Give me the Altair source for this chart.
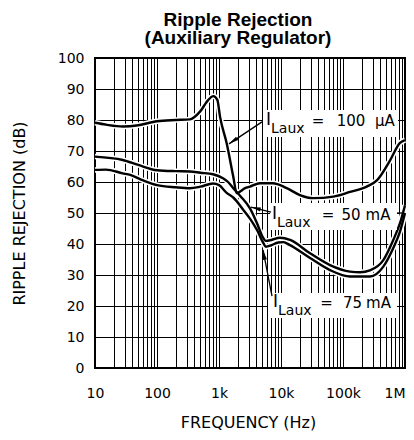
import altair as alt
import pandas as pd

# ---------------- curve data (frequency in Hz, ripple rejection in dB) ----------------
f_100uA = [10, 15, 28, 50, 100, 200, 340, 494, 673, 809, 940, 1040, 1330, 1700, 1930,
           2180, 2630, 3160, 4580, 7400, 12400, 20200, 33000, 69800, 130000, 241000,
           355000, 575000, 830000, 1000000]
db_100uA = [79.1, 78.5, 77.9, 78.3, 79.6, 80.0, 80.2, 82.7, 86.5, 87.7, 86.5, 81.0, 72.5,
            61.7, 56.4, 56.9, 58.0, 58.5, 59.6, 59.6, 58.0, 55.8, 54.8, 55.3, 56.8, 58.5,
            60.6, 67.0, 72.6, 73.5]

f_50mA = [10, 28, 50, 100, 200, 340, 500, 800, 1160, 1400, 1700, 2200, 3160, 4100, 5000,
          5700, 7000, 9600, 14000, 29400, 61600, 130000, 190000, 272000, 447000, 647000,
          830000, 1000000]
db_50mA = [68.2, 67.1, 65.5, 63.8, 63.5, 63.4, 63.0, 62.5, 61.2, 60.0, 58.0, 55.5, 51.5,
           46.7, 42.5, 41.0, 41.3, 42.0, 41.3, 37.0, 33.2, 31.1, 30.9, 31.5, 34.8, 41.3,
           46.7, 52.5]

f_75mA = [10, 15, 28, 37, 60, 100, 200, 340, 500, 800, 1000, 1330, 1700, 2470, 3200, 4100,
          5200, 5700, 7000, 9000, 11000, 13700, 29400, 61600, 130000, 272000, 447000,
          647000, 830000, 1000000]
db_75mA = [63.9, 64.0, 62.8, 62.3, 60.5, 59.0, 58.3, 58.0, 58.5, 59.5, 59.0, 56.5, 55.0,
           51.0, 48.0, 44.5, 40.3, 39.1, 39.6, 40.5, 40.6, 39.7, 35.5, 31.6, 29.5, 29.5,
           32.7, 38.7, 44.0, 50.0]

# ---------------- axes ----------------
x_decades = [10, 100, 1000, 10000, 100000, 1000000]
x_tick_labels = ["10", "100", "1k", "10k", "100k", "1M"]
x_minor_multipliers = [1, 2, 3, 4, 5, 6, 7, 8, 9]
y_tick_values = [0, 10, 20, 30, 40, 50, 60, 70, 80, 90, 100]

# ---------------- annotations ----------------
ann_left_text = ["I", "Laux", "I", "Laux", "I", "Laux"]
ann_left_f = [5730, 6900, 7160, 8600, 7430, 8950]
ann_left_db = [78.4, 75.8, 48.1, 45.5, 19.7, 17.1]
ann_left_size = [17, 14, 17, 14, 17, 14]

ann_mid_text = ["=", "100", "\u03bcA", "=", "50", "mA", "=", "75", "mA"]
ann_mid_f = [39500, 134600, 475000, 57300, 134600, 367000, 54200, 142000, 374000]
ann_mid_db = [78.1, 78.1, 78.1, 47.7, 47.7, 47.7, 19.35, 19.35, 19.35]

box_f1 = [5130, 6650, 6170]
box_f2 = [771000, 743000, 743000]
box_db1 = [74.5, 44.5, 16.1]
box_db2 = [83.2, 53.2, 24.2]

arrow_f_tail = [4940, 6900, 7160, 743000]
arrow_db_tail = [79.4, 50.3, 23.2, 50.0]
arrow_f_tip = [1450, 3280, 5130, 964000]
arrow_db_tip = [72.3, 51.9, 38.1, 50.0]

head_f = [1450, 3280, 5130]
head_db = [72.3, 51.9, 38.1]
head_angle = [236, 284, 349]

# ---------------- tables ----------------
curves = pd.concat([
    pd.DataFrame({"f": f_100uA, "db": db_100uA, "s": "100uA"}),
    pd.DataFrame({"f": f_50mA, "db": db_50mA, "s": "50mA"}),
    pd.DataFrame({"f": f_75mA, "db": db_75mA, "s": "75mA"}),
])
left_df = pd.DataFrame({"t": ann_left_text, "f": ann_left_f, "db": ann_left_db,
                        "size": ann_left_size})
mid_df = pd.DataFrame({"t": ann_mid_text, "f": ann_mid_f, "db": ann_mid_db})
box_df = pd.DataFrame({"f": box_f1, "f2": box_f2, "db": box_db1, "db2": box_db2})
arrow_df = pd.DataFrame({"f": arrow_f_tail, "f2": arrow_f_tip,
                         "db": arrow_db_tail, "db2": arrow_db_tip})
head_df = pd.DataFrame({"f": head_f, "db": head_db, "a": head_angle})

grid_x = [m * d for d in x_decades[:-1] for m in x_minor_multipliers] + [x_decades[-1]]
label_expr = " : ".join(
    f"datum.value == {v} ? '{l}'" for v, l in zip(x_decades, x_tick_labels)
) + " : ''"

x_scale = alt.Scale(type="log", domain=[10, 1000000], nice=False)
y_scale = alt.Scale(domain=[0, 100], nice=False)

x_axis = alt.Axis(
    values=grid_x, labelExpr=label_expr, labelOverlap=False,
    labelAlign={"condition": {"test": "datum.value >= 1000000", "value": "right"},
                "value": "center"},
    labelPadding=18, title="FREQUENCY (Hz)", titleX=153, titleY=59,
    titleBaseline="alphabetic", titleAlign="center",
)
y_axis = alt.Axis(
    values=y_tick_values, labelPadding=11, title="RIPPLE REJECTION (dB)",
    titleX=-76, titleY=155, titleAngle=270, titleAlign="center", titleBaseline="middle",
)


def X(field="f"):
    return alt.X(f"{field}:Q", scale=x_scale, axis=x_axis)


def Y(field="db"):
    return alt.Y(f"{field}:Q", scale=y_scale, axis=y_axis)


casing = alt.Chart(curves).mark_line(
    color="white", strokeWidth=5.5, interpolate="monotone"
).encode(x=X(), y=Y(), detail="s:N")

lines = alt.Chart(curves).mark_line(
    color="black", strokeWidth=2.4, interpolate="monotone"
).encode(x=X(), y=Y(), detail="s:N")

boxes = alt.Chart(box_df).mark_rect(fill="white").encode(
    x=X(), x2="f2:Q", y=Y(), y2="db2:Q")

arrows = alt.Chart(arrow_df).mark_rule(color="black", strokeWidth=1.3).encode(
    x=X(), x2="f2:Q", y=Y(), y2="db2:Q")

heads = alt.Chart(head_df).mark_point(
    shape="M0,0 L0.45,2.2 L-0.45,2.2 Z", filled=True, color="black", opacity=1, size=80
).encode(x=X(), y=Y(), angle=alt.Angle("a:Q", scale=None))

left_text = alt.Chart(left_df).mark_text(
    align="left", baseline="alphabetic", font="DejaVu Sans", color="black"
).encode(x=X(), y=Y(), text="t:N", size=alt.Size("size:Q", scale=None))

mid_text = alt.Chart(mid_df).mark_text(
    align="center", baseline="alphabetic", font="DejaVu Sans", fontSize=15, color="black"
).encode(x=X(), y=Y(), text="t:N")

chart = alt.layer(
    casing, lines, boxes, arrows, heads, left_text, mid_text
).properties(
    width=310, height=310,
    autosize=alt.AutoSizeParams(type="none"),
    padding={"left": 87, "top": 50, "right": 1, "bottom": 63},
    title=alt.TitleParams(
        text=["Ripple Rejection", "(Auxiliary Regulator)"],
        font="Liberation Sans", fontSize=19, fontWeight="bold", color="black",
        anchor="middle", frame="group", dx=-12, lineHeight=18, offset=3,
    ),
).configure_view(
    stroke="black", strokeWidth=2
).configure_axis(
    grid=True, gridColor="black", gridOpacity=1, gridWidth=1, domain=False, ticks=False,
    labelFont="DejaVu Sans", labelFontSize=14, labelColor="black",
    titleFont="DejaVu Sans", titleFontSize=16, titleFontWeight="normal", titleColor="black",
)

chart.save("out.html", embed_options={"renderer": "svg", "actions": False})
